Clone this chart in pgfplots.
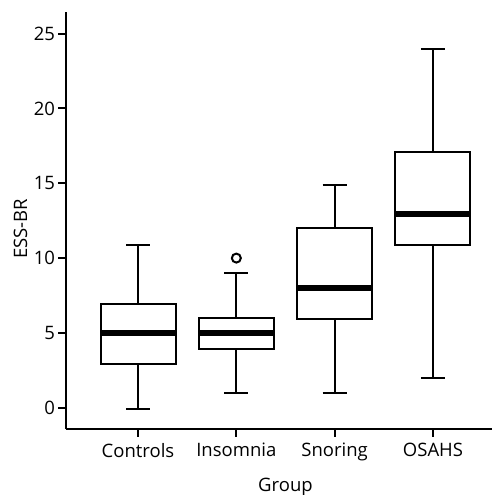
\documentclass[border=0pt]{standalone}
\usepackage{fontspec}
\setmainfont{Open Sans}
\usepackage{pgfplots}
\pgfplotsset{compat=1.18}
\usepgfplotslibrary{statistics}
\begin{document}
\begin{tikzpicture}
\path[use as bounding box] (-66pt,-66pt) rectangle (426pt,429pt);
\begin{axis}[at={(0pt,0pt)}, anchor=south west, scale only axis,
  width=439pt, height=417pt,
  xmin=0.2675, xmax=4.7325, ymin=-1.424, ymax=26.45,
  axis lines=left, axis line style={-, line width=2pt, black},
  xtick={1,2,3,4}, xticklabels={Controls,Insomnia,Snoring,OSAHS},
  ytick={0,5,10,15,20,25},
  tick align=outside, major tick length=7.5pt,
  tick style={line width=2pt, black},
  ticklabel style={font=\fontsize{18.5}{21}\selectfont},
  xticklabel style={yshift=-3pt},
  /pgf/number format/assume math mode=true,
  xlabel={Group}, ylabel={ESS-BR},
  label style={font=\fontsize{18.5}{21}\selectfont},
  xlabel style={at={(axis description cs:0.5,-0.1487)}, anchor=base},
  ylabel style={at={(axis description cs:-0.0888,0.48)}, anchor=base},
  clip=false,
  boxplot/draw direction=y,
  boxplot/box extend=0.763,
  boxplot/whisker extend=0.244,
  boxplot/every median/.style={line width=6pt},
]
\addplot+[black, line width=2pt, mark=none, boxplot/draw direction=y, boxplot prepared={draw position=1,
  lower whisker=-0.1, lower quartile=2.9, median=5, upper quartile=6.9, upper whisker=10.9}]
  coordinates {};
\addplot+[black, line width=2pt, mark=none, boxplot/draw direction=y,
  boxplot prepared={draw position=2,
  lower whisker=0.95, lower quartile=3.9, median=5, upper quartile=6, upper whisker=9}]
  coordinates {};
\addplot+[black, line width=2pt, mark=none, boxplot/draw direction=y, boxplot prepared={draw position=3,
  lower whisker=0.95, lower quartile=5.9, median=8, upper quartile=12, upper whisker=14.9}]
  coordinates {};
\addplot+[black, line width=2pt, mark=none, boxplot/draw direction=y, boxplot prepared={draw position=4,
  lower whisker=2, lower quartile=10.9, median=12.95, upper quartile=17.1, upper whisker=24}]
  coordinates {};
% outlier (Insomnia)
\addplot[only marks, black, mark=o, mark size=4.5pt, mark options={line width=2pt, black}]
  coordinates {(2,10)};
\end{axis}
\end{tikzpicture}
\end{document}
